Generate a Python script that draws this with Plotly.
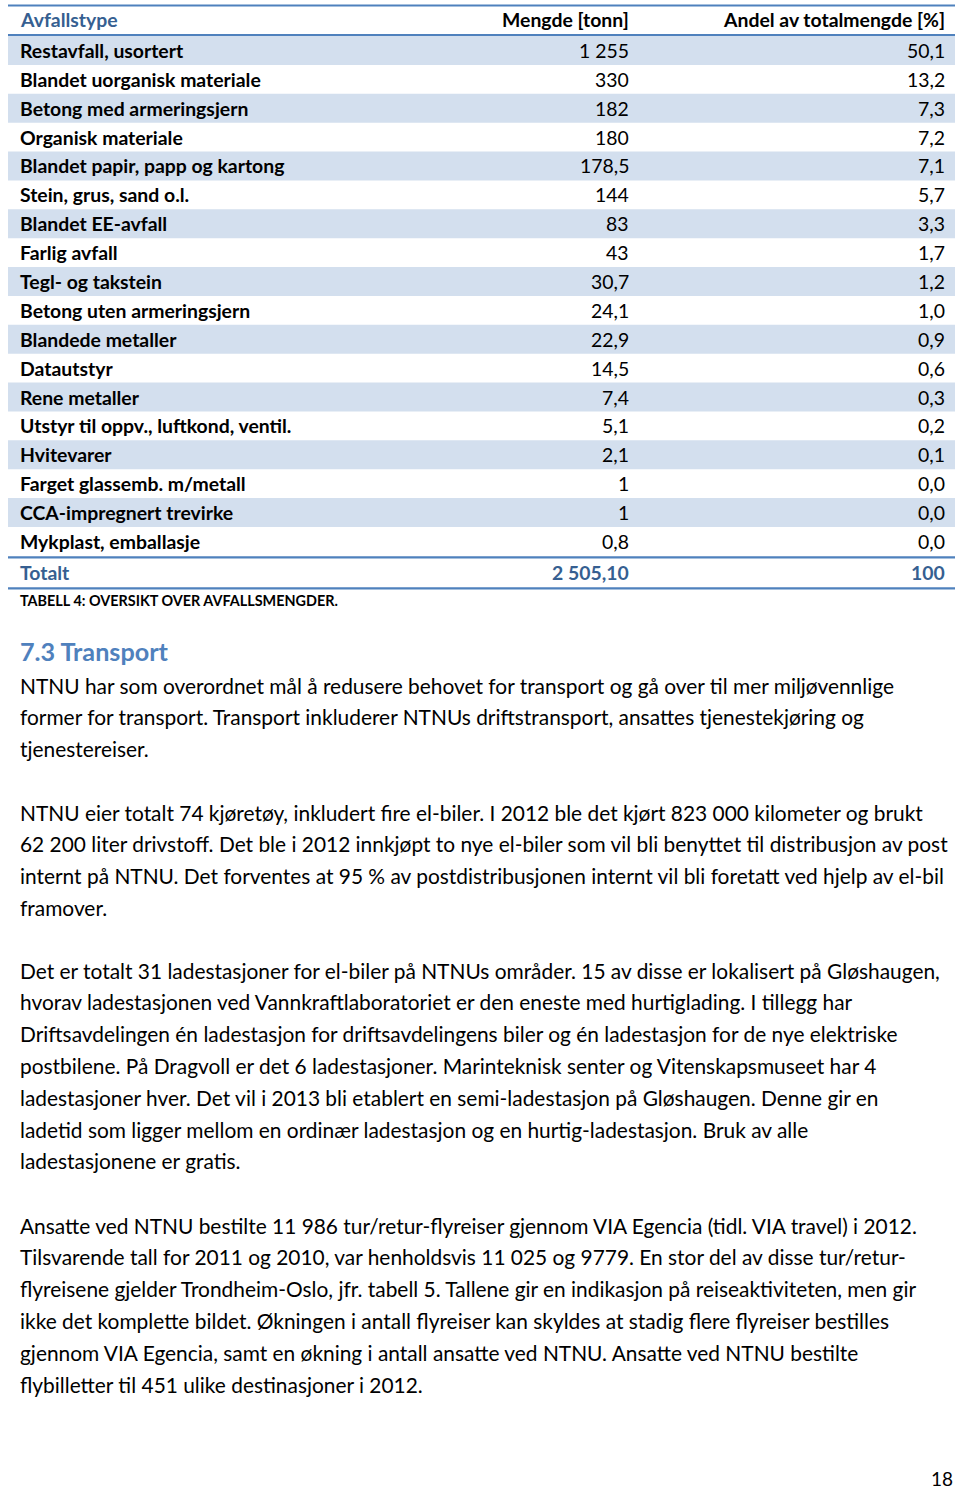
import plotly.graph_objects as go

# ---- data ----
header = ["Avfallstype", "Mengde [tonn]", "Andel av totalmengde [%]"]
categories = ["Restavfall, usortert", "Blandet uorganisk materiale", "Betong med armeringsjern",
              "Organisk materiale", "Blandet papir, papp og kartong", "Stein, grus, sand o.l.",
              "Blandet EE-avfall", "Farlig avfall", "Tegl- og takstein", "Betong uten armeringsjern",
              "Blandede metaller", "Datautstyr", "Rene metaller", "Utstyr til oppv., luftkond, ventil.",
              "Hvitevarer", "Farget glassemb. m/metall", "CCA-impregnert trevirke", "Mykplast, emballasje"]
mengde = ["1 255", "330", "182", "180", "178,5", "144", "83", "43", "30,7", "24,1", "22,9",
          "14,5", "7,4", "5,1", "2,1", "1", "1", "0,8"]
andel = ["50,1", "13,2", "7,3", "7,2", "7,1", "5,7", "3,3", "1,7", "1,2", "1,0", "0,9",
         "0,6", "0,3", "0,2", "0,1", "0,0", "0,0", "0,0"]
total_row = ["Totalt", "2 505,10", "100"]
caption = "TABELL 4: OVERSIKT OVER AVFALLSMENGDER."
heading = "7.3 Transport"
paragraphs = [
    ["NTNU har som overordnet mål å redusere behovet for transport og gå over til mer miljøvennlige",
     "former for transport. Transport inkluderer NTNUs driftstransport, ansattes tjenestekjøring og",
     "tjenestereiser."],
    ["NTNU eier totalt 74 kjøretøy, inkludert fire el-biler. I 2012 ble det kjørt 823 000 kilometer og brukt",
     "62 200 liter drivstoff. Det ble i 2012 innkjøpt to nye el-biler som vil bli benyttet til distribusjon av post",
     "internt på NTNU. Det forventes at 95 % av postdistribusjonen internt vil bli foretatt ved hjelp av el-bil",
     "framover."],
    ["Det er totalt 31 ladestasjoner for el-biler på NTNUs områder. 15 av disse er lokalisert på Gløshaugen,",
     "hvorav ladestasjonen ved Vannkraftlaboratoriet er den eneste med hurtiglading. I tillegg har",
     "Driftsavdelingen én ladestasjon for driftsavdelingens biler og én ladestasjon for de nye elektriske",
     "postbilene. På Dragvoll er det 6 ladestasjoner. Marinteknisk senter og Vitenskapsmuseet har 4",
     "ladestasjoner hver. Det vil i 2013 bli etablert en semi-ladestasjon på Gløshaugen. Denne gir en",
     "ladetid som ligger mellom en ordinær ladestasjon og en hurtig-ladestasjon. Bruk av alle",
     "ladestasjonene er gratis."],
    ["Ansatte ved NTNU bestilte 11 986 tur/retur-flyreiser gjennom VIA Egencia (tidl. VIA travel) i 2012.",
     "Tilsvarende tall for 2011 og 2010, var henholdsvis 11 025 og 9779. En stor del av disse tur/retur-",
     "flyreisene gjelder Trondheim-Oslo, jfr. tabell 5. Tallene gir en indikasjon på reiseaktiviteten, men gir",
     "ikke det komplette bildet. Økningen i antall flyreiser kan skyldes at stadig flere flyreiser bestilles",
     "gjennom VIA Egencia, samt en økning i antall ansatte ved NTNU. Ansatte ved NTNU bestilte",
     "flybilletter til 451 ulike destinasjoner i 2012."],
]
page_number = "18"

# ---- styling ----
FONT = "Lato"
BLUE_LINE = "#4F81BD"
DARK_BLUE = "#365F91"
SHADE = "#D3DFEE"
TX0, TX1 = 8, 955
COL_X = [20, 629, 945]
ROW_H = 28.88
ROW_TOP = 36
TSIZE = 19.4
BODY = 20.9

fig = go.Figure()
fig.add_trace(go.Scatter(x=[0, 960], y=[0, 1489], mode="markers", marker=dict(opacity=0),
                         hoverinfo="skip", showlegend=False))

shapes = []
ann = []

def txt(x, y, s, size, color="black", bold=False, anchor="left"):
    ann.append(dict(x=x, y=y, xref="x", yref="y", text=f"<b>{s}</b>" if bold else s,
                    showarrow=False, xanchor=anchor, yanchor="middle",
                    borderpad=0, borderwidth=0,
                    font=dict(family=FONT, size=size, color=color)))

def hline(y, w=2.2):
    shapes.append(dict(type="line", xref="x", yref="y", x0=TX0, x1=TX1, y0=y, y1=y,
                       line=dict(color=BLUE_LINE, width=w)))

# header
hline(5.5)
hy = 19.5
txt(COL_X[0], hy, header[0], TSIZE, DARK_BLUE, True)
txt(COL_X[1], hy, header[1], TSIZE, "black", True, "right")
txt(COL_X[2], hy, header[2], TSIZE, "black", True, "right")

# rows
for i, (c, m, a) in enumerate(zip(categories, mengde, andel)):
    y0 = ROW_TOP + i * ROW_H
    if i % 2 == 0:
        shapes.append(dict(type="rect", xref="x", yref="y", x0=TX0, x1=TX1, y0=y0, y1=y0 + ROW_H,
                           fillcolor=SHADE, line=dict(width=0), layer="below"))
    yc = y0 + ROW_H / 2
    txt(COL_X[0], yc, c, TSIZE, "black", True)
    txt(COL_X[1], yc, m, TSIZE, "black", False, "right")
    txt(COL_X[2], yc, a, TSIZE, "black", False, "right")
hline(ROW_TOP - 1)

tl = ROW_TOP + len(categories) * ROW_H + 1.5
hline(tl)
ty = tl + 15
txt(COL_X[0], ty, total_row[0], TSIZE, DARK_BLUE, True)
txt(COL_X[1], ty, total_row[1], TSIZE, DARK_BLUE, True, "right")
txt(COL_X[2], ty, total_row[2], TSIZE, DARK_BLUE, True, "right")
hline(tl + 31)

txt(COL_X[0], 600, caption, 14.4, "black", True)
txt(COL_X[0], 651, heading, 25.2, BLUE_LINE, True)

para_starts = [685, 812, 970, 1225]
LINE_H = 31.8
for start, lines in zip(para_starts, paragraphs):
    for j, line in enumerate(lines):
        txt(COL_X[0], start + j * LINE_H, line, BODY, "black")

txt(953, 1478, page_number, 19, "black", False, "right")

fig.update_layout(
    width=960, height=1489, margin=dict(l=0, r=0, t=0, b=0),
    paper_bgcolor="white", plot_bgcolor="white",
    xaxis=dict(range=[0, 960], visible=False, fixedrange=True),
    yaxis=dict(range=[1489, 0], visible=False, fixedrange=True),
    shapes=shapes, annotations=ann, showlegend=False,
)
fig.write_html("out.html", config={"displayModeBar": False},
               post_script="document.body.style.margin='0';document.body.style.overflow='hidden';")
